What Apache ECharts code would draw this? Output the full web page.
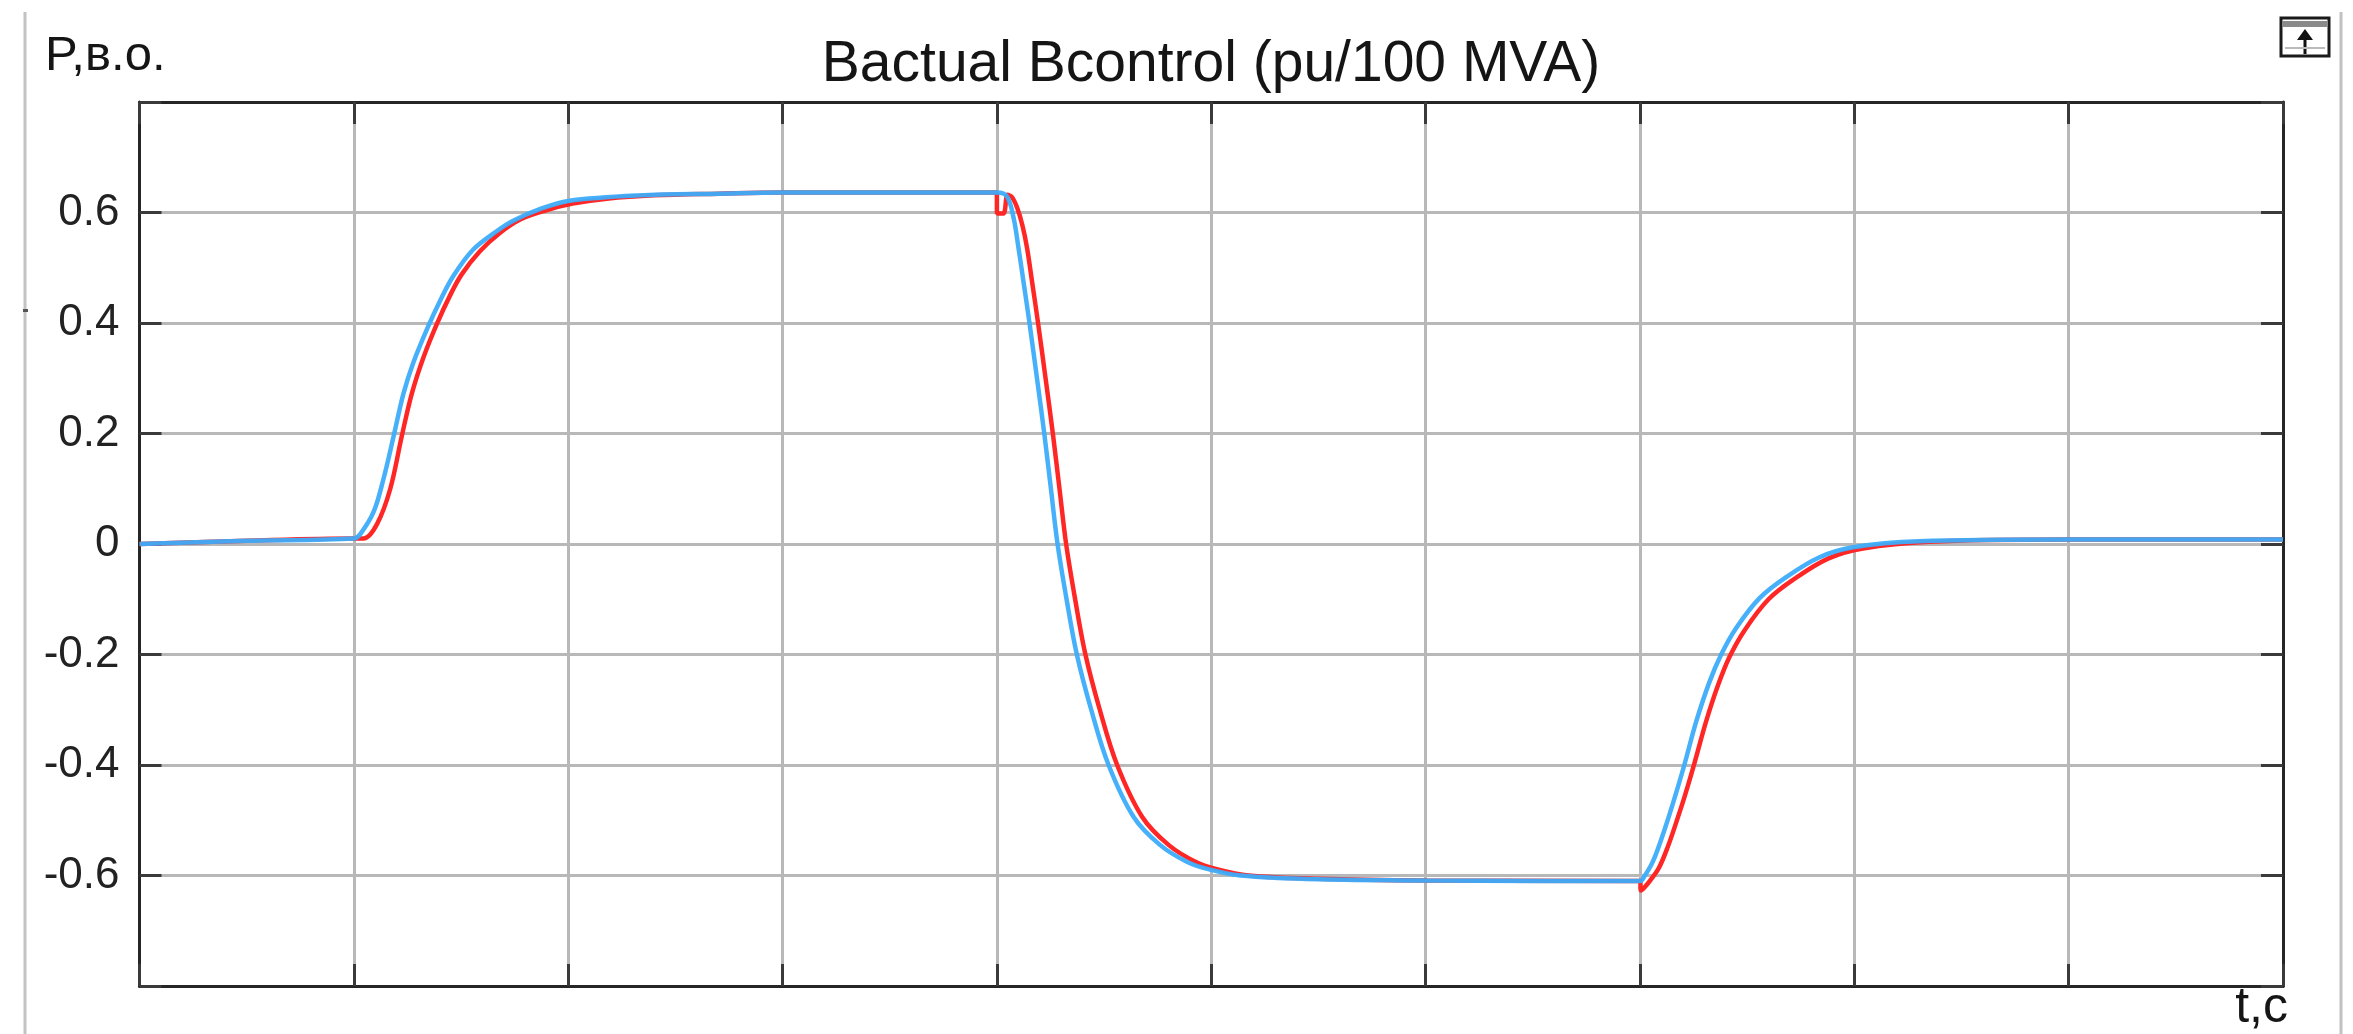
<!DOCTYPE html>
<html>
<head>
<meta charset="utf-8">
<script src="https://cdn.jsdelivr.net/npm/echarts@6/dist/echarts.min.js"></script>
<style>
  html, body { margin: 0; padding: 0; background: #ffffff; }
  #chart { width: 2353px; height: 1034px; }
</style>
</head>
<body>
<div id="chart"></div>
<script>
// Time axis (c) and susceptance signals (pu / 100 MVA)
const timeControl = [0, 0.5, 1.0, 1.03, 1.093, 1.139, 1.186, 1.232, 1.279, 1.348,
  1.402, 1.464, 1.557, 1.666, 1.743, 1.867, 2.0, 2.33, 2.7, 3.0,
  4.0, 4.047, 4.078, 4.101, 4.124, 4.152, 4.187, 4.221, 4.252, 4.283,
  4.325, 4.373, 4.44, 4.521, 4.638, 4.762, 4.886, 4.99, 5.135, 5.5,
  6.0, 7.0, 7.02, 7.06, 7.106, 7.155, 7.207, 7.262, 7.324, 7.379,
  7.449, 7.558, 7.682, 7.838, 7.994, 8.3, 9.0, 10.0];
const valueControl = [0, 0.006, 0.01, 0.018, 0.059, 0.119, 0.196, 0.273, 0.33, 0.395,
  0.44, 0.485, 0.533, 0.566, 0.585, 0.606, 0.621, 0.631, 0.634, 0.636,
  0.636, 0.629, 0.59, 0.535, 0.475, 0.4, 0.3, 0.2, 0.1, 0,
  -0.1, -0.2, -0.3, -0.4, -0.494, -0.545, -0.575, -0.589, -0.6, -0.607,
  -0.609, -0.61, -0.602, -0.575, -0.527, -0.468, -0.4, -0.322, -0.25, -0.2,
  -0.152, -0.098, -0.06, -0.024, -0.006, 0.005, 0.008, 0.008];

const timeActual = [0, 0.5, 1.0, 1.046, 1.108, 1.17, 1.224, 1.271, 1.325, 1.387,
  1.449, 1.503, 1.588, 1.681, 1.774, 1.898, 2.02, 2.18, 2.4, 2.7,
  3.0, 4.0, 4.0, 4.03, 4.05, 4.07, 4.095, 4.12, 4.141, 4.164,
  4.192, 4.227, 4.261, 4.292, 4.323, 4.365, 4.413, 4.48, 4.561, 4.678,
  4.802, 4.926, 5.03, 5.175, 5.5, 6.0, 7.0, 7.005, 7.02, 7.05,
  7.09, 7.13, 7.17, 7.21, 7.254, 7.308, 7.362, 7.417, 7.49, 7.6,
  7.725, 7.88, 8.04, 8.35, 9.0, 10.0];
const valueActual = [0, 0.006, 0.01, 0.01, 0.036, 0.1, 0.196, 0.273, 0.338, 0.398,
  0.45, 0.488, 0.53, 0.563, 0.587, 0.604, 0.616, 0.625, 0.631, 0.634,
  0.636, 0.636, 0.598, 0.598, 0.632, 0.628, 0.608, 0.575, 0.535, 0.475,
  0.4, 0.3, 0.2, 0.1, 0, -0.1, -0.2, -0.3, -0.4, -0.494,
  -0.545, -0.575, -0.589, -0.6, -0.606, -0.609, -0.61, -0.627, -0.622, -0.608,
  -0.585, -0.548, -0.503, -0.455, -0.397, -0.322, -0.258, -0.205, -0.155, -0.1,
  -0.062, -0.026, -0.008, 0.004, 0.008, 0.008];

const titleText = 'Bactual Bcontrol (pu/100 MVA)';
const yAxisTitle = 'P,в.о.';
const xAxisTitle = 't,c';
const yMin = -0.8, yMax = 0.8, yStep = 0.2;
const xMin = 0, xMax = 10, xStep = 1;

const zip = (ts, vs) => ts.map((t, i) => [t, vs[i]]);

const FONT = '"Liberation Sans", Arial, Helvetica, sans-serif';
const TEXT = '#151515';
const FRAME = '#262626';
const GRID = '#b8b8b8';

const frameAxisLine = { show: true, onZero: false, lineStyle: { color: FRAME, width: 3 } };
const frameTick = { show: true, inside: true, length: 22, lineStyle: { color: '#3a3a3a', width: 3 } };

const chart = echarts.init(document.getElementById('chart'), null, { renderer: 'canvas' });

chart.setOption({
  animation: false,
  backgroundColor: '#ffffff',
  grid: { left: 139.5, right: 70, top: 102, bottom: 48, containLabel: false },
  xAxis: [
    {
      type: 'value', min: xMin, max: xMax, interval: xStep, position: 'bottom',
      axisLine: frameAxisLine, axisTick: frameTick,
      axisLabel: { show: false },
      splitLine: { show: true, lineStyle: { color: GRID, width: 3 } }
    },
    {
      type: 'value', min: xMin, max: xMax, interval: xStep, position: 'top',
      axisLine: frameAxisLine, axisTick: frameTick,
      axisLabel: { show: false }, splitLine: { show: false }
    }
  ],
  yAxis: [
    {
      type: 'value', min: yMin, max: yMax, interval: yStep, position: 'left',
      axisLine: frameAxisLine, axisTick: frameTick,
      axisLabel: {
        show: true, margin: 20, fontSize: 44, fontFamily: FONT, color: '#222222',
        formatter: v => (Math.abs(v) > 0.7 ? '' : String(Math.round(v * 10) / 10))
      },
      splitLine: { show: true, lineStyle: { color: GRID, width: 3 } }
    },
    {
      type: 'value', min: yMin, max: yMax, interval: yStep, position: 'right',
      axisLine: frameAxisLine, axisTick: frameTick,
      axisLabel: { show: false }, splitLine: { show: false }
    }
  ],
  series: [
    {
      name: 'Bactual', type: 'line', xAxisIndex: 0, yAxisIndex: 0,
      data: zip(timeActual, valueActual),
      showSymbol: false, smooth: 0.35, clip: true,
      lineStyle: { color: '#ff2626', width: 4.5 }, z: 3
    },
    {
      name: 'Bcontrol', type: 'line', xAxisIndex: 0, yAxisIndex: 0,
      data: zip(timeControl, valueControl),
      showSymbol: false, smooth: 0.35, clip: true,
      lineStyle: { color: '#3dacfa', width: 4.5, opacity: 0.95 }, z: 4
    }
  ],
  graphic: [
    // window side rules
    { type: 'line', shape: { x1: 25, y1: 12, x2: 25, y2: 1034 }, style: { stroke: '#c2c2c2', lineWidth: 3 }, silent: true },
    { type: 'line', shape: { x1: 2341, y1: 12, x2: 2341, y2: 1034 }, style: { stroke: '#c2c2c2', lineWidth: 3 }, silent: true },
    { type: 'rect', shape: { x: 23, y: 309, width: 5, height: 3 }, style: { fill: '#555' }, silent: true },
    // title
    {
      type: 'text', x: 1211, y: 65, silent: true,
      style: { text: titleText, fill: TEXT, font: 'normal 57px ' + FONT, align: 'center', verticalAlign: 'middle' }
    },
    // axis captions
    {
      type: 'text', x: 45, y: 56, silent: true,
      style: { text: yAxisTitle, fill: TEXT, font: 'normal 49px ' + FONT, align: 'left', verticalAlign: 'middle' }
    },
    {
      type: 'text', x: 2288, y: 1008, silent: true,
      style: { text: xAxisTitle, fill: TEXT, font: 'normal 50px ' + FONT, align: 'right', verticalAlign: 'middle' }
    },
    // undock button in the corner
    {
      type: 'group', x: 2281, y: 18, silent: true,
      children: [
        { type: 'rect', shape: { x: 0, y: 0, width: 48, height: 38 }, style: { fill: '#ffffff', stroke: '#1a1a1a', lineWidth: 3 } },
        { type: 'rect', shape: { x: 2, y: 3, width: 44, height: 6 }, style: { fill: '#8a8a8a' } },
        { type: 'line', shape: { x1: 24, y1: 36, x2: 24, y2: 16 }, style: { stroke: '#111', lineWidth: 3 } },
        { type: 'polygon', shape: { points: [[16, 22], [24, 11], [32, 22]] }, style: { fill: '#111' } },
        { type: 'line', shape: { x1: 4, y1: 30, x2: 44, y2: 30 }, style: { stroke: '#bbbbbb', lineWidth: 2 } }
      ]
    }
  ]
});
</script>
</body>
</html>
